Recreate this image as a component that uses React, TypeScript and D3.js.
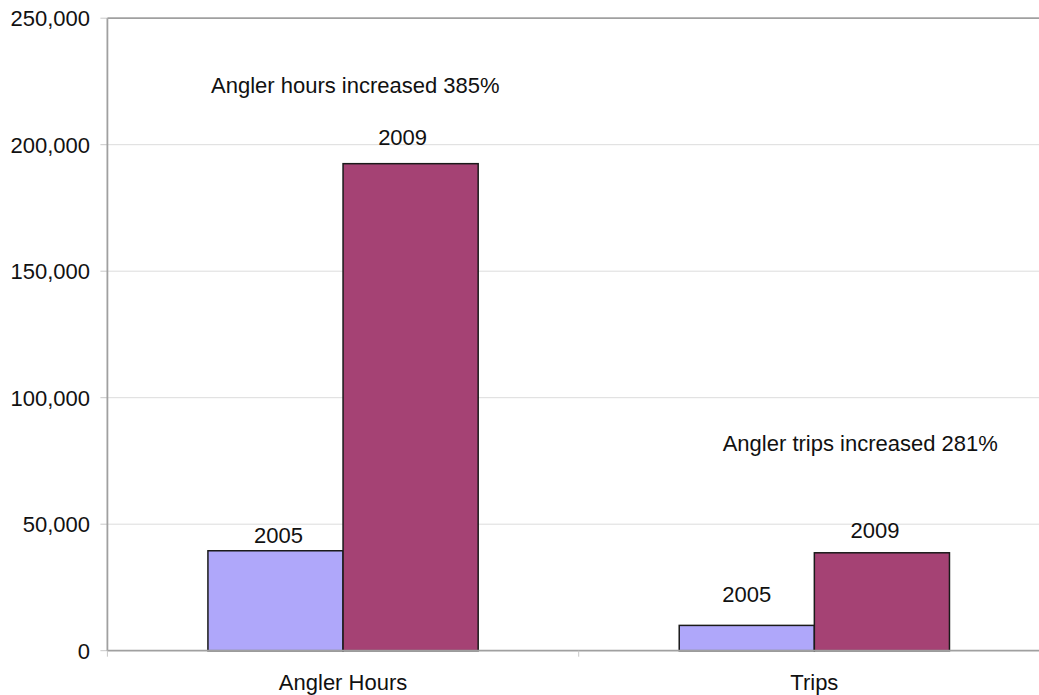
import React from "react";
import * as d3 from "d3";

const categories = ["Angler Hours", "Trips"];
const seriesNames = ["2005", "2009"];
const values2005 = [39500, 10000];
const values2009 = [192500, 38700];
const yTicks = [0, 50000, 100000, 150000, 200000, 250000];
const annotationTexts = ["Angler hours increased 385%", "Angler trips increased 281%"];
const annotationValues = [220300, 79000];
// annotation horizontal offset from start of category band (pixels)
const annotationDx = [103.6, 144];
// label placement tweaks (pixels) [dx, dyAboveBarTop]
const labelTweaks2005 = [[3, 8], [0, 23.6]];
const labelTweaks2009 = [[-8, 19], [-7, 14.4]];

const colors = ["#afa7fa", "#a54274"];

export default function App() {
  const W = 1039, H = 695;
  const left = 107.4, right = 1050, top = 18.2, bottom = 650.7;
  const font = "'Liberation Sans', Arial, sans-serif";
  const fs = 22;

  const x = d3.scaleBand<string>().domain(categories).range([left, right]).padding(0);
  const xs = d3.scaleBand<string>().domain(seriesNames).range([0, x.bandwidth()]).paddingInner(0).paddingOuter(0.744);
  const y = d3.scaleLinear().domain([0, 250000]).range([bottom, top]);

  const series = [values2005, values2009];
  const tweaks = [labelTweaks2005, labelTweaks2009];

  return (
    <svg width={W} height={H} style={{ position: "absolute", left: 0, top: 0, background: "#fff" }} fontFamily={font}>
      <rect x={0} y={0} width={W} height={H} fill="#fff" />
      {yTicks.slice(1, -1).map((t) => (
        <line key={t} x1={left} x2={W} y1={y(t)} y2={y(t)} stroke="#dcdcdc" strokeWidth={1} />
      ))}
      <line x1={left} x2={W} y1={y(250000)} y2={y(250000)} stroke="#a0a0a0" strokeWidth={1.8} />
      {yTicks.map((t) => (
        <g key={"t" + t}>
          <line x1={left - 7} x2={left} y1={y(t)} y2={y(t)} stroke="#c8c8c8" strokeWidth={1} />
          <text x={90} y={y(t) + 7.8} textAnchor="end" fontSize={fs} fill="#111">
            {d3.format(",")(t)}
          </text>
        </g>
      ))}
      {series.map((vals, si) =>
        categories.map((c, ci) => {
          const bx = (x(c) as number) + (xs(seriesNames[si]) as number);
          const bw = xs.bandwidth();
          const by = y(vals[ci]);
          const [tdx, tdy] = tweaks[si][ci];
          return (
            <g key={si + "-" + ci}>
              <rect x={bx} y={by} width={bw} height={bottom - by} fill={colors[si]} stroke="#1a1a1a" strokeWidth={1.5} />
              <text x={bx + bw / 2 + tdx} y={by - tdy} textAnchor="middle" fontSize={fs} fill="#111">
                {seriesNames[si]}
              </text>
            </g>
          );
        })
      )}
      <line x1={left} x2={left} y1={top} y2={bottom} stroke="#a0a0a0" strokeWidth={1.8} />
      <line x1={left} x2={W} y1={bottom} y2={bottom} stroke="#a0a0a0" strokeWidth={1.8} />
      {[left, left + x.bandwidth(), right].map((t, i) => (
        <line key={"xt" + i} x1={t} x2={t} y1={bottom} y2={bottom + 6} stroke="#c8c8c8" strokeWidth={1} />
      ))}
      {categories.map((c) => (
        <text key={c} x={(x(c) as number) + x.bandwidth() / 2} y={690} textAnchor="middle" fontSize={fs} fill="#111">
          {c}
        </text>
      ))}
      {annotationTexts.map((t, i) => (
        <text key={t} x={(x(categories[i]) as number) + annotationDx[i]} y={y(annotationValues[i])} fontSize={fs} fill="#111">
          {t}
        </text>
      ))}
    </svg>
  );
}
